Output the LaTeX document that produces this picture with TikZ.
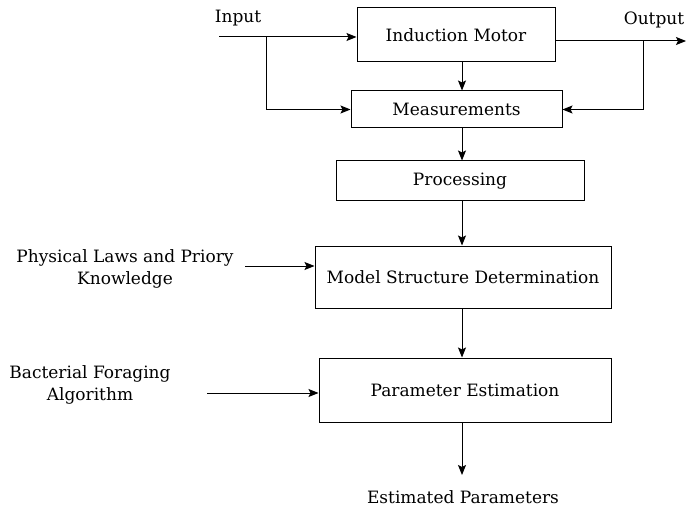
\documentclass[tikz,border=0pt]{standalone}
\usepackage{fontspec}
\setmainfont{DejaVu Serif}
\usetikzlibrary{arrows.meta}
\begin{document}
\begin{tikzpicture}[>={Stealth[length=10pt,width=8pt,inset=2pt]}, x=1pt, y=-1pt, line width=1pt,
  blk/.style={draw, align=center, inner sep=0pt, font=\fontsize{17}{20}\selectfont},
  lbl/.style={align=center, inner sep=0pt, font=\fontsize{17}{22}\selectfont}]
\useasboundingbox (0,0) rectangle (686,508);
\node[blk, minimum width=198, minimum height=54] (motor) at (456,35) {Induction Motor};
\node[blk, minimum width=211, minimum height=37] (meas) at (456.5,109.5) {Measurements};
\node[blk, minimum width=248, minimum height=40] (proc) at (460,181) {Processing};
\node[blk, minimum width=296, minimum height=62] (model) at (463,277) {Model Structure Determination};
\node[blk, minimum width=292, minimum height=64] (param) at (465,390) {Parameter Estimation};
\node[lbl] (input) at (238,18) {Input};
\node[lbl] (output) at (654,20) {Output};
\node[lbl] (laws) at (125,269) {Physical Laws and Priory\\Knowledge};
\node[lbl] (bfa) at (90,385) {Bacterial Foraging\\Algorithm};
\node[lbl] (est) at (463,497) {Estimated Parameters};
\coordinate (spine) at (462,0);
\coordinate (in) at (219,37);
\coordinate (inbr) at (266,37);
\coordinate (out) at (686,41);
\coordinate (outbr) at (643,41);
\coordinate (lawsend) at (245,266);
\coordinate (bfaend) at (207,393);
\coordinate (estend) at (462,475);
\draw[->] (in) -- (in -| motor.west);
\draw[->] (inbr) |- (meas.west);
\draw[->] (motor.east |- out) -- (out);
\draw[->] (outbr) |- (meas.east);
\draw[->] (motor.south -| spine) -- (meas.north -| spine);
\draw[->] (meas.south -| spine) -- (proc.north -| spine);
\draw[->] (proc.south -| spine) -- (model.north -| spine);
\draw[->] (model.south -| spine) -- (param.north -| spine);
\draw[->] (param.south -| spine) -- (estend);
\draw[->] (lawsend) -- (lawsend -| model.west);
\draw[->] (bfaend) -- (bfaend -| param.west);
\end{tikzpicture}
\end{document}
